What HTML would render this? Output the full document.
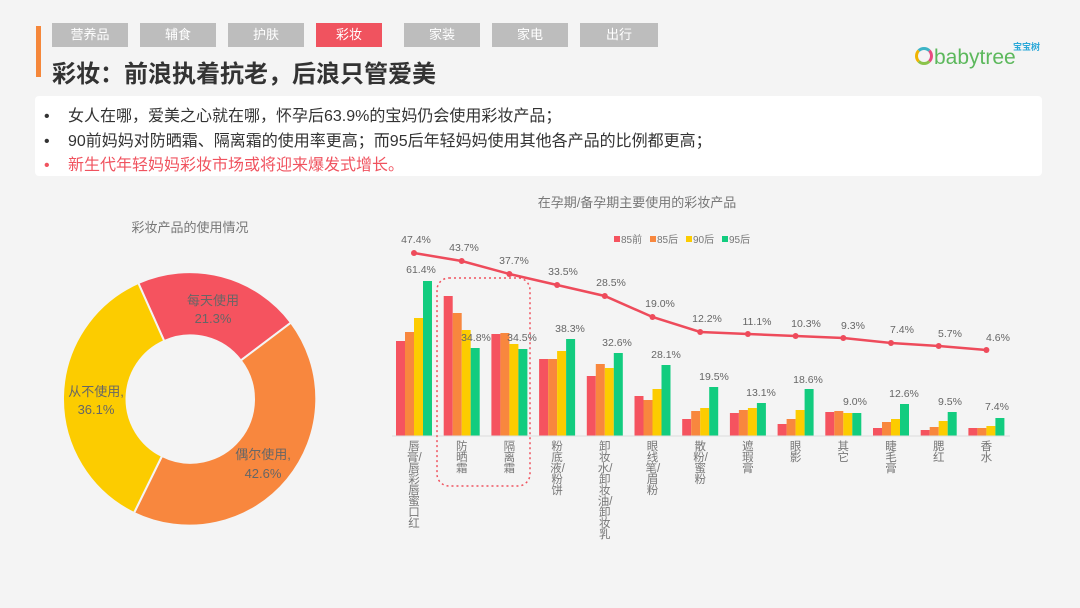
<!DOCTYPE html>
<html><head><meta charset="utf-8"><style>
body{margin:0;width:1080px;height:608px;background:#f4f4f4;font-family:"Liberation Sans","Noto Sans CJK SC",sans-serif;position:relative;overflow:hidden}
.tab{position:absolute;top:23px;height:24px;width:76px;background:#bdbdbd;color:#fff;font-size:13px;line-height:24px;text-align:center}
.bar{position:absolute;left:36px;top:26px;width:5px;height:51px;background:#f5873a}
h1{position:absolute;left:52px;top:54px;margin:0;font-size:24px;font-weight:bold;color:#333;letter-spacing:0px}
.box{position:absolute;left:35px;top:96px;width:1007px;height:80px;background:#fff;border-radius:4px}
.l{position:absolute;left:44px;font-size:16px;color:#333;white-space:nowrap}
.l span{display:inline-block;width:24px}
</style></head><body>
<div class="bar"></div>
<div class="tab" style="left:52px">营养品</div>
<div class="tab" style="left:140px">辅食</div>
<div class="tab" style="left:228px">护肤</div>
<div class="tab" style="left:316px;background:#f0535f;width:66px">彩妆</div>
<div class="tab" style="left:404px">家装</div>
<div class="tab" style="left:492px">家电</div>
<div class="tab" style="left:580px;width:78px">出行</div>
<h1>彩妆：前浪执着抗老，后浪只管爱美</h1>
<div style="position:absolute;left:1013px;top:40px;font-size:9px;color:#2aa8d8;font-weight:bold">宝宝树</div>
<div style="position:absolute;left:915px;top:47px;width:18px;height:18px;border:3px solid #e94a7f;border-radius:50%;border-color:#3cb4c6 #e94a7f #8bc34a #f0b400;box-sizing:border-box"></div>
<div style="position:absolute;left:934px;top:46px;font-size:21px;color:#5cb85c;">babytree</div>
<div class="box"></div>
<div class="l" style="top:102px"><span>•</span>女人在哪，爱美之心就在哪，怀孕后63.9%的宝妈仍会使用彩妆产品；</div>
<div class="l" style="top:127px"><span>•</span>90前妈妈对防晒霜、隔离霜的使用率更高；而95后年轻妈妈使用其他各产品的比例都更高；</div>
<div class="l" style="top:151px;color:#f0535f"><span>•</span>新生代年轻妈妈彩妆市场或将迎来爆发式增长。</div>

<svg width="1080" height="608" style="position:absolute;left:0;top:0" font-family="Liberation Sans, Noto Sans CJK SC, sans-serif">
<text x="190" y="232" font-size="13" fill="#777" text-anchor="middle">彩妆产品的使用情况</text>
<g stroke="#f4f4f4" stroke-width="2">
<path d="M138.3,283 A127,127 0 0 1 291,322.6 L240.8,360.5 A63.5,63.5 0 0 0 164.2,341 Z" fill="#f5535f"/>
<path d="M291,322.6 A127,127 0 0 1 134,513 L162,456 A63.5,63.5 0 0 0 240.8,360.5 Z" fill="#f8873e"/>
<path d="M134,513 A127,127 0 0 1 138.3,283 L164.2,341 A63.5,63.5 0 0 0 162,456 Z" fill="#fccc00"/>
</g>
<g font-size="13" fill="#666" text-anchor="middle">
<text x="213" y="305">每天使用</text><text x="213" y="323">21.3%</text>
<text x="96" y="396">从不使用,</text><text x="96" y="414">36.1%</text>
<text x="263" y="459">偶尔使用,</text><text x="263" y="478">42.6%</text>
</g>
<text x="637" y="207" font-size="13" fill="#777" text-anchor="middle">在孕期/备孕期主要使用的彩妆产品</text>
<g font-size="10" fill="#777">
<rect x="614" y="236" width="6" height="6" fill="#f5535f"/><text x="621" y="243">85前</text>
<rect x="650" y="236" width="6" height="6" fill="#f8873e"/><text x="657" y="243">85后</text>
<rect x="686" y="236" width="6" height="6" fill="#fccc00"/><text x="693" y="243">90后</text>
<rect x="722" y="236" width="6" height="6" fill="#12cc7f"/><text x="729" y="243">95后</text>
</g>
<g id="bars"></g>
<rect x="437" y="278" width="93" height="208" rx="12" fill="none" stroke="#f0535f" stroke-width="1.5" stroke-dasharray="2,3"/>
<polyline fill="none" stroke="#ee4b5b" stroke-width="2.5" points="414,253 461.7,261 509.4,274 557.1,285 604.8,296 652.5,317 700.2,332 747.9,334 795.6,336 843.3,338 891,343 938.7,346 986.4,350"/>
<g fill="#ee4b5b">
<circle cx="414" cy="253" r="3"/><circle cx="461.7" cy="261" r="3"/><circle cx="509.4" cy="274" r="3"/><circle cx="557.1" cy="285" r="3"/><circle cx="604.8" cy="296" r="3"/><circle cx="652.5" cy="317" r="3"/><circle cx="700.2" cy="332" r="3"/><circle cx="747.9" cy="334" r="3"/><circle cx="795.6" cy="336" r="3"/><circle cx="843.3" cy="338" r="3"/><circle cx="891" cy="343" r="3"/><circle cx="938.7" cy="346" r="3"/><circle cx="986.4" cy="350" r="3"/>
</g>
<g font-size="10.5" fill="#666" text-anchor="middle">
<text x="416" y="243">47.4%</text><text x="464" y="251">43.7%</text><text x="514" y="264">37.7%</text><text x="563" y="275">33.5%</text><text x="611" y="286">28.5%</text><text x="660" y="307">19.0%</text><text x="707" y="322">12.2%</text><text x="757" y="325">11.1%</text><text x="806" y="327">10.3%</text><text x="853" y="329">9.3%</text><text x="902" y="333">7.4%</text><text x="950" y="337">5.7%</text><text x="998" y="341">4.6%</text>
<text x="421" y="273">61.4%</text><text x="476" y="341">34.8%</text><text x="522" y="341">34.5%</text><text x="570" y="332">38.3%</text><text x="617" y="346">32.6%</text><text x="666" y="358">28.1%</text><text x="714" y="380">19.5%</text><text x="761" y="396">13.1%</text><text x="808" y="383">18.6%</text><text x="855" y="405">9.0%</text><text x="904" y="397">12.6%</text><text x="950" y="405">9.5%</text><text x="997" y="410">7.4%</text>
</g>
</svg>
<div id="cats"></div>
<script>
var tops=[[341,296,334,359,376,396,419,413,424,412,428,430,428],[332,313,333,359,364,400,411,410,419,411,422,427,428],[318,330,344,351,368,389,408,408,410,413,419,421,426],[281,348,349,339,353,365,387,403,389,413,404,412,418]];
var col=["#f5535f","#f8873e","#fccc00","#12cc7f"],s="";
for(var i=0;i<13;i++){var cx=414+47.7*i;for(var k=0;k<4;k++){var t=tops[k][i];s+='<rect x="'+(cx-18+9*k)+'" y="'+t+'" width="9" height="'+(436-t)+'" fill="'+col[k]+'"/>';}}
s+='<line x1="392" y1="436" x2="1010" y2="436" stroke="#ddd"/>';
document.getElementById("bars").innerHTML=s;
var names=["唇膏/唇彩唇蜜口红","防晒霜","隔离霜","粉底液/粉饼","卸妆水/卸妆油/卸妆乳","眼线笔/眉粉","散粉/蜜粉","遮瑕膏","眼影","其它","睫毛膏","腮红","香水"],h="";
for(var i=0;i<13;i++){h+='<div style="position:absolute;left:'+(414+47.7*i-7)+'px;top:442px;width:14px;font-size:11.5px;line-height:11px;color:#777;word-break:break-all;text-align:center">'+names[i]+'</div>';}
document.getElementById("cats").innerHTML=h;
</script>
</body></html>
